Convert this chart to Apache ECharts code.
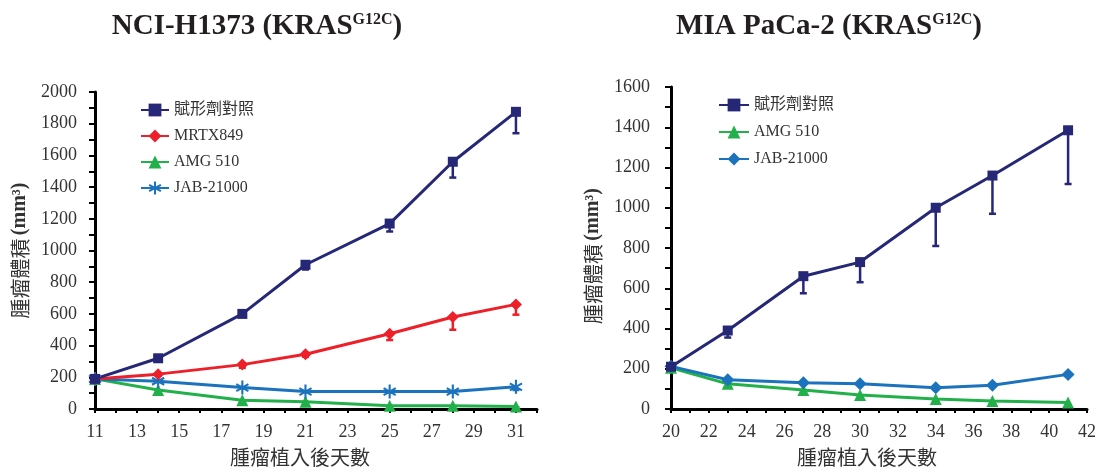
<!DOCTYPE html>
<html>
<head>
<meta charset="utf-8">
<script src="https://cdn.jsdelivr.net/npm/echarts@6/dist/echarts.min.js"></script>
<style>
  html, body { margin: 0; padding: 0; background: #fff; }
  #wrap { position: relative; width: 1099px; height: 472px; }
  #left { position: absolute; left: 0; top: 0; width: 550px; height: 472px; }
  #right { position: absolute; left: 550px; top: 0; width: 549px; height: 472px; }
</style>
</head>
<body>
<div id="wrap"><div id="left"></div><div id="right"></div></div>
<script>
// ---- NCI-H1373 xenograft (tumour volume, mm^3; error = SEM, drawn downward) ----
const h1373Days = [11, 14, 18, 21, 25, 28, 31];
const h1373Vehicle = [190, 320, 600, 910, 1170, 1560, 1875];
const h1373VehicleErr = [0, 10, 10, 30, 50, 100, 135];
const h1373Mrtx = [190, 220, 280, 345, 475, 580, 660];
const h1373MrtxErr = [0, 10, 20, 15, 40, 80, 65];
const h1373Amg = [190, 120, 55, 45, 20, 20, 15];
const h1373AmgErr = [0, 5, 5, 5, 5, 5, 5];
const h1373Jab = [190, 175, 135, 110, 110, 110, 140];
const h1373JabErr = [0, 5, 5, 5, 5, 5, 20];

// ---- MIA PaCa-2 xenograft ----
const miaDays = [20, 23, 27, 30, 34, 37, 41];
const miaVehicle = [210, 390, 660, 730, 1000, 1160, 1385];
const miaVehicleErr = [0, 35, 85, 100, 190, 190, 267];
const miaAmg = [205, 125, 95, 70, 50, 40, 32];
const miaJab = [212, 145, 130, 125, 105, 118, 172];

// Axis ranges
const h1373XRange = [11, 32];
const miaXRange = [20, 42];
const h1373YMax = 2000;
const miaYMax = 1600;

const NAMES = { vehicle: '賦形劑對照', mrtx: 'MRTX849', amg: 'AMG 510', jab: 'JAB-21000' };
const COLORS = { vehicle: '#262776', mrtx: '#ED1F29', amg: '#22B04B', jab: '#1B72BD' };

const SERIF = '"Liberation Serif", "Times New Roman", serif';
const CJK = '"Noto Sans CJK TC", "Noto Sans CJK SC", sans-serif';
const MIXED = '"Liberation Serif", "Noto Sans CJK TC", serif';

// six-armed asterisk marker built from three rotated bars
function asteriskPath(len, half) {
  let d = '';
  [0, 60, 120].forEach(function (deg) {
    const a = deg * Math.PI / 180;
    const dx = Math.sin(a), dy = -Math.cos(a);
    const px = Math.cos(a), py = Math.sin(a);
    const pts = [
      [len * dx + half * px, len * dy + half * py],
      [len * dx - half * px, len * dy - half * py],
      [-len * dx - half * px, -len * dy - half * py],
      [-len * dx + half * px, -len * dy + half * py]
    ];
    d += 'M' + pts.map(function (p) { return p[0].toFixed(2) + ',' + p[1].toFixed(2); }).join('L') + 'Z';
  });
  return 'path://' + d;
}
const ASTERISK = asteriskPath(10, 1.5);

function pairs(days, vals) { return days.map(function (d, i) { return [d, vals[i]]; }); }

function lineSeries(key, days, vals, symbol, size) {
  return {
    name: NAMES[key], type: 'line', z: 3,
    data: pairs(days, vals),
    symbol: symbol, symbolSize: size, symbolKeepAspect: true,
    showAllSymbol: true,
    itemStyle: { color: COLORS[key], borderWidth: 0 },
    lineStyle: { color: COLORS[key], width: 3 },
    emphasis: { disabled: true },
    animation: false
  };
}

function errorSeries(key, days, vals, errs) {
  const color = COLORS[key];
  return {
    type: 'custom', z: 2, silent: true, animation: false,
    data: days.map(function (d, i) { return [d, vals[i], errs[i]]; }),
    encode: { x: 0, y: 1 },
    renderItem: function (params, api) {
      const x = api.value(0), y = api.value(1), e = api.value(2);
      if (!e) return null;
      const top = api.coord([x, y]);
      const bot = api.coord([x, y - e]);
      return {
        type: 'group',
        children: [
          { type: 'line', shape: { x1: top[0], y1: top[1], x2: bot[0], y2: bot[1] }, style: { stroke: color, lineWidth: 2.5 } },
          { type: 'line', shape: { x1: bot[0] - 3.5, y1: bot[1], x2: bot[0] + 3.5, y2: bot[1] }, style: { stroke: color, lineWidth: 2.5 } }
        ]
      };
    }
  };
}

function xAxisCfg(range, gap, shift) {
  return {
    type: 'value', min: range[0], max: range[1], interval: 1,
    name: '腫瘤植入後天數', nameLocation: 'middle', nameGap: gap,
    nameTextStyle: { fontFamily: CJK, fontSize: 20, color: '#333', padding: [0, shift, 0, 0] },
    axisLine: { show: true, onZero: false, lineStyle: { color: '#000', width: 3 } },
    axisTick: { show: true, inside: false, length: 4, lineStyle: { color: '#000', width: 2 } },
    splitLine: { show: false },
    axisLabel: {
      margin: 14, fontFamily: SERIF, fontSize: 18, color: '#333',
      showMinLabel: true, showMaxLabel: true,
      formatter: function (v) { return (v - range[0]) % 2 === 0 ? String(v) : ''; }
    }
  };
}

function yAxisCfg(max, gap, shift, labelMargin) {
  return {
    type: 'value', min: 0, max: max, interval: 200,
    name: '{c|腫瘤體積} {e|(mm³)}', nameLocation: 'middle', nameGap: gap,
    nameTextStyle: {
      padding: [0, shift, 0, 0],
      rich: {
        c: { fontFamily: CJK, fontSize: 20, color: '#333' },
        e: { fontFamily: SERIF, fontSize: 20, fontWeight: 'bold', color: '#333' }
      }
    },
    axisLine: { show: true, lineStyle: { color: '#000', width: 3 } },
    axisTick: { show: true, length: 6, lineStyle: { color: '#000', width: 2 } },
    minorTick: { show: true, splitNumber: 2, length: 6, lineStyle: { color: '#000', width: 2 } },
    splitLine: { show: false },
    axisLabel: {
      margin: labelMargin, fontFamily: SERIF, fontSize: 18, color: '#333',
      formatter: function (v) { return String(v); }
    }
  };
}

function titleGraphic(x, main) {
  return [{
    type: 'text', x: x, y: 27, silent: true,
    style: {
      text: '{t|' + main + ' (KRAS}{s|G12C}{t|)}',
      align: 'center', verticalAlign: 'middle',
      rich: {
        t: { fontFamily: SERIF, fontWeight: 'bold', fontSize: 29, lineHeight: 30, fill: '#231f20' },
        s: { fontFamily: SERIF, fontWeight: 'bold', fontSize: 16, lineHeight: 30, fill: '#231f20', verticalAlign: 'top' }
      }
    }
  }];
}

function legendCfg(left, top, names, gap, width) {
  return {
    orient: 'vertical', left: left, top: top,
    data: names, itemWidth: width, itemHeight: 16, itemGap: gap,
    selectedMode: false,
    textStyle: { fontFamily: MIXED, fontSize: 16, color: '#333', lineHeight: 16 }
  };
}

// ---------- left panel ----------
const leftChart = echarts.init(document.getElementById('left'), null, { renderer: 'canvas' });
leftChart.setOption({
  animation: false,
  backgroundColor: '#fff',
  graphic: titleGraphic(257, 'NCI-H1373'),
  grid: { left: 95, right: 13, top: 92, bottom: 58 },
  legend: legendCfg(135, 97, [NAMES.vehicle, NAMES.mrtx, NAMES.amg, NAMES.jab], 10, 28),
  xAxis: xAxisCfg(h1373XRange, 38, 32),
  yAxis: yAxisCfg(h1373YMax, 65, 0, 18),
  series: [
    errorSeries('amg', h1373Days, h1373Amg, h1373AmgErr),
    errorSeries('jab', h1373Days, h1373Jab, h1373JabErr),
    errorSeries('mrtx', h1373Days, h1373Mrtx, h1373MrtxErr),
    errorSeries('vehicle', h1373Days, h1373Vehicle, h1373VehicleErr),
    lineSeries('amg', h1373Days, h1373Amg, 'triangle', 12),
    lineSeries('jab', h1373Days, h1373Jab, ASTERISK, 14),
    lineSeries('mrtx', h1373Days, h1373Mrtx, 'diamond', 12),
    lineSeries('vehicle', h1373Days, h1373Vehicle, 'rect', 10)
  ]
});

// ---------- right panel ----------
const rightChart = echarts.init(document.getElementById('right'), null, { renderer: 'canvas' });
rightChart.setOption({
  animation: false,
  backgroundColor: '#fff',
  graphic: titleGraphic(279, 'MIA PaCa-2'),
  grid: { left: 121, right: 2, top: 87, bottom: 63 },
  legend: legendCfg(163, 92, [NAMES.vehicle, NAMES.amg, NAMES.jab], 11, 30),
  xAxis: xAxisCfg(miaXRange, 38, 24),
  yAxis: yAxisCfg(miaYMax, 64, 16, 21),
  series: [
    errorSeries('vehicle', miaDays, miaVehicle, miaVehicleErr),
    lineSeries('amg', miaDays, miaAmg, 'triangle', 12),
    lineSeries('jab', miaDays, miaJab, 'diamond', 13),
    lineSeries('vehicle', miaDays, miaVehicle, 'rect', 10)
  ]
});
</script>
</body>
</html>
